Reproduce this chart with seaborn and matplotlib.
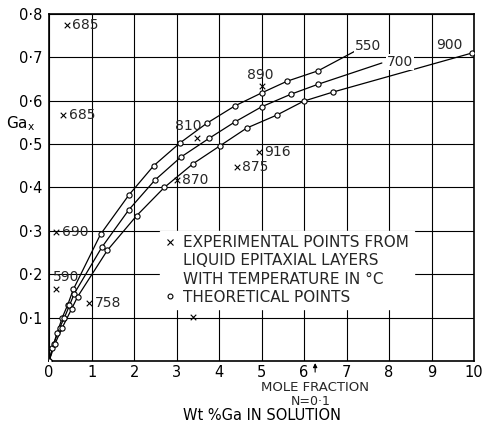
import pandas as pd
import seaborn as sns
import matplotlib.pyplot as plt
from matplotlib.lines import Line2D


# theoretical curves (liquidus temperature 550, 700, 900 C)
upper_x = [0.0, 0.08, 0.19, 0.31, 0.44, 0.57, 1.21, 1.88, 2.46, 3.07, 3.71, 4.37, 5.0, 5.6, 6.33]
upper_y = [0.0, 0.03, 0.065, 0.1, 0.13, 0.165, 0.292, 0.383, 0.45, 0.502, 0.548, 0.588, 0.618, 0.645, 0.669]
upper_end = (7.25, 0.717)

middle_x = [0.0, 0.11, 0.25, 0.36, 0.48, 0.59, 1.24, 1.88, 2.49, 3.1, 3.76, 4.37, 5.0, 5.69, 6.33]
middle_y = [0.0, 0.04, 0.077, 0.1, 0.128, 0.155, 0.262, 0.349, 0.417, 0.47, 0.513, 0.551, 0.586, 0.615, 0.638]
middle_end = (7.83, 0.687)

lower_x = [0.0, 0.14, 0.3, 0.53, 0.67, 1.37, 2.06, 2.71, 3.39, 4.02, 4.65, 5.36, 5.99, 6.68, 9.95]
lower_y = [0.0, 0.04, 0.075, 0.12, 0.148, 0.255, 0.335, 0.4, 0.455, 0.496, 0.537, 0.567, 0.599, 0.62, 0.71]

curve_names = ['550', '700', '900']
curve_label_x = [7.5, 8.26, 9.42]
curve_label_y = [0.726, 0.689, 0.728]

# experimental points from liquid epitaxial layers
exp_x = [0.41, 0.33, 3.47, 5.0, 4.94, 4.41, 3.0, 0.17, 0.165, 0.94, 3.39]
exp_y = [0.774, 0.567, 0.513, 0.634, 0.482, 0.448, 0.417, 0.297, 0.165, 0.133, 0.101]
exp_temp = ['685', '685', '810', '890', '916', '875', '870', '690', '590', '758', '']
# label offsets in points
exp_dx = [4, 4, -6, -1, 4, 4, 4, 4, 7, 4, 0]
exp_dy = [0, 0, 9, 8, 0, 0, 0, 0, 9, 0, 0]
exp_ha = ['left', 'left', 'center', 'center', 'left', 'left', 'left', 'left', 'center', 'left', 'left']

x_ticks = list(range(0, 11))
y_ticks = [0.1, 0.2, 0.3, 0.4, 0.5, 0.6, 0.7, 0.8]
y_tick_labels = ['0·1', '0·2', '0·3', '0·4', '0·5', '0·6', '0·7', '0·8']

mole_fraction_x = 6.26


def main():
    sns.set_theme(style="white")
    plt.rcParams['font.family'] = ['DejaVu Sans']
    plt.rcParams['mathtext.default'] = 'regular'

    lines = pd.concat([
        pd.DataFrame({'x': upper_x + [upper_end[0]], 'y': upper_y + [upper_end[1]], 'curve': '550'}),
        pd.DataFrame({'x': middle_x + [middle_end[0]], 'y': middle_y + [middle_end[1]], 'curve': '700'}),
        pd.DataFrame({'x': lower_x, 'y': lower_y, 'curve': '900'}),
    ])
    circles = pd.concat([
        pd.DataFrame({'x': upper_x, 'y': upper_y}),
        pd.DataFrame({'x': middle_x, 'y': middle_y}),
        pd.DataFrame({'x': lower_x, 'y': lower_y}),
    ])
    exp = pd.DataFrame({'x': exp_x, 'y': exp_y, 'temp': exp_temp})

    fig = plt.figure(figsize=(4.86, 4.26), dpi=100)
    ax = fig.add_axes([0.101, 0.1526, 0.8745, 0.8146])

    sns.lineplot(data=lines, x='x', y='y', units='curve', estimator=None, sort=False,
                 color='black', lw=0.9, ax=ax, zorder=2)
    sns.scatterplot(data=circles, x='x', y='y', marker='o', s=14, facecolor='white',
                    edgecolor='black', linewidth=0.8, ax=ax, zorder=3)
    sns.scatterplot(data=exp, x='x', y='y', marker='x', s=16, color='black',
                    linewidth=0.8, ax=ax, zorder=3)

    for i, t in enumerate(exp_temp):
        if t:
            ax.annotate(t, (exp_x[i], exp_y[i]), xytext=(exp_dx[i], exp_dy[i]),
                        textcoords='offset points', ha=exp_ha[i], va='center', fontsize=10)

    for name, lx, ly in zip(curve_names, curve_label_x, curve_label_y):
        ax.text(lx, ly, name, ha='center', va='center', fontsize=10,
                bbox=dict(facecolor='white', edgecolor='none', pad=0.5), zorder=4)

    ax.set_xlim(0, 10)
    ax.set_ylim(0, 0.8)
    ax.set_xticks(x_ticks)
    ax.set_yticks(y_ticks)
    ax.set_yticklabels(y_tick_labels)
    ax.tick_params(length=0, labelsize=10.5, colors='black')
    ax.tick_params(axis='x', pad=3)
    ax.tick_params(axis='y', pad=5)
    ax.grid(True, color='black', lw=0.8)
    for s in ax.spines.values():
        s.set_color('black')
        s.set_linewidth(1.2)

    ax.set_ylabel('Ga$_{x}$', rotation=0, fontsize=11, color='black', va='center')
    ax.yaxis.set_label_coords(-0.068, 0.683)
    ax.set_xlabel('Wt %Ga IN SOLUTION', fontsize=10.5, color='black', labelpad=20)

    # mole fraction marker under the x axis
    ax.annotate('', xy=(mole_fraction_x, 0), xycoords=('data', 'axes fraction'),
                xytext=(0, -8), textcoords='offset points',
                arrowprops=dict(arrowstyle='-|>', color='black', lw=0.8,
                                mutation_scale=6, shrinkA=0, shrinkB=1.5))
    ax.annotate('MOLE FRACTION', xy=(mole_fraction_x, -0.075), xycoords=('data', 'axes fraction'),
                ha='center', va='center', fontsize=9.5, annotation_clip=False)
    ax.annotate('N=0·1', xy=(mole_fraction_x - 0.1, -0.117), xycoords=('data', 'axes fraction'),
                ha='center', va='center', fontsize=9, annotation_clip=False)

    handles = [
        Line2D([], [], marker='x', linestyle='none', color='black', markersize=4, mew=0.8),
        Line2D([], [], linestyle='none'),
        Line2D([], [], linestyle='none'),
        Line2D([], [], marker='o', linestyle='none', markerfacecolor='white',
               markeredgecolor='black', markersize=3.5, mew=0.8),
    ]
    labels = ['EXPERIMENTAL POINTS FROM', 'LIQUID EPITAXIAL LAYERS',
              'WITH TEMPERATURE IN °C', 'THEORETICAL POINTS']
    leg = ax.legend(handles, labels, loc='upper left', bbox_to_anchor=(0.262, 0.375),
                    fontsize=11, frameon=True, fancybox=False, framealpha=1,
                    edgecolor='white', facecolor='white', handlelength=0.6,
                    handletextpad=0.6, labelspacing=0.2, borderpad=0.3, borderaxespad=0)
    leg.set_zorder(5)

    fig.savefig('out.png', dpi=100)


if __name__ == "__main__":
    main()
